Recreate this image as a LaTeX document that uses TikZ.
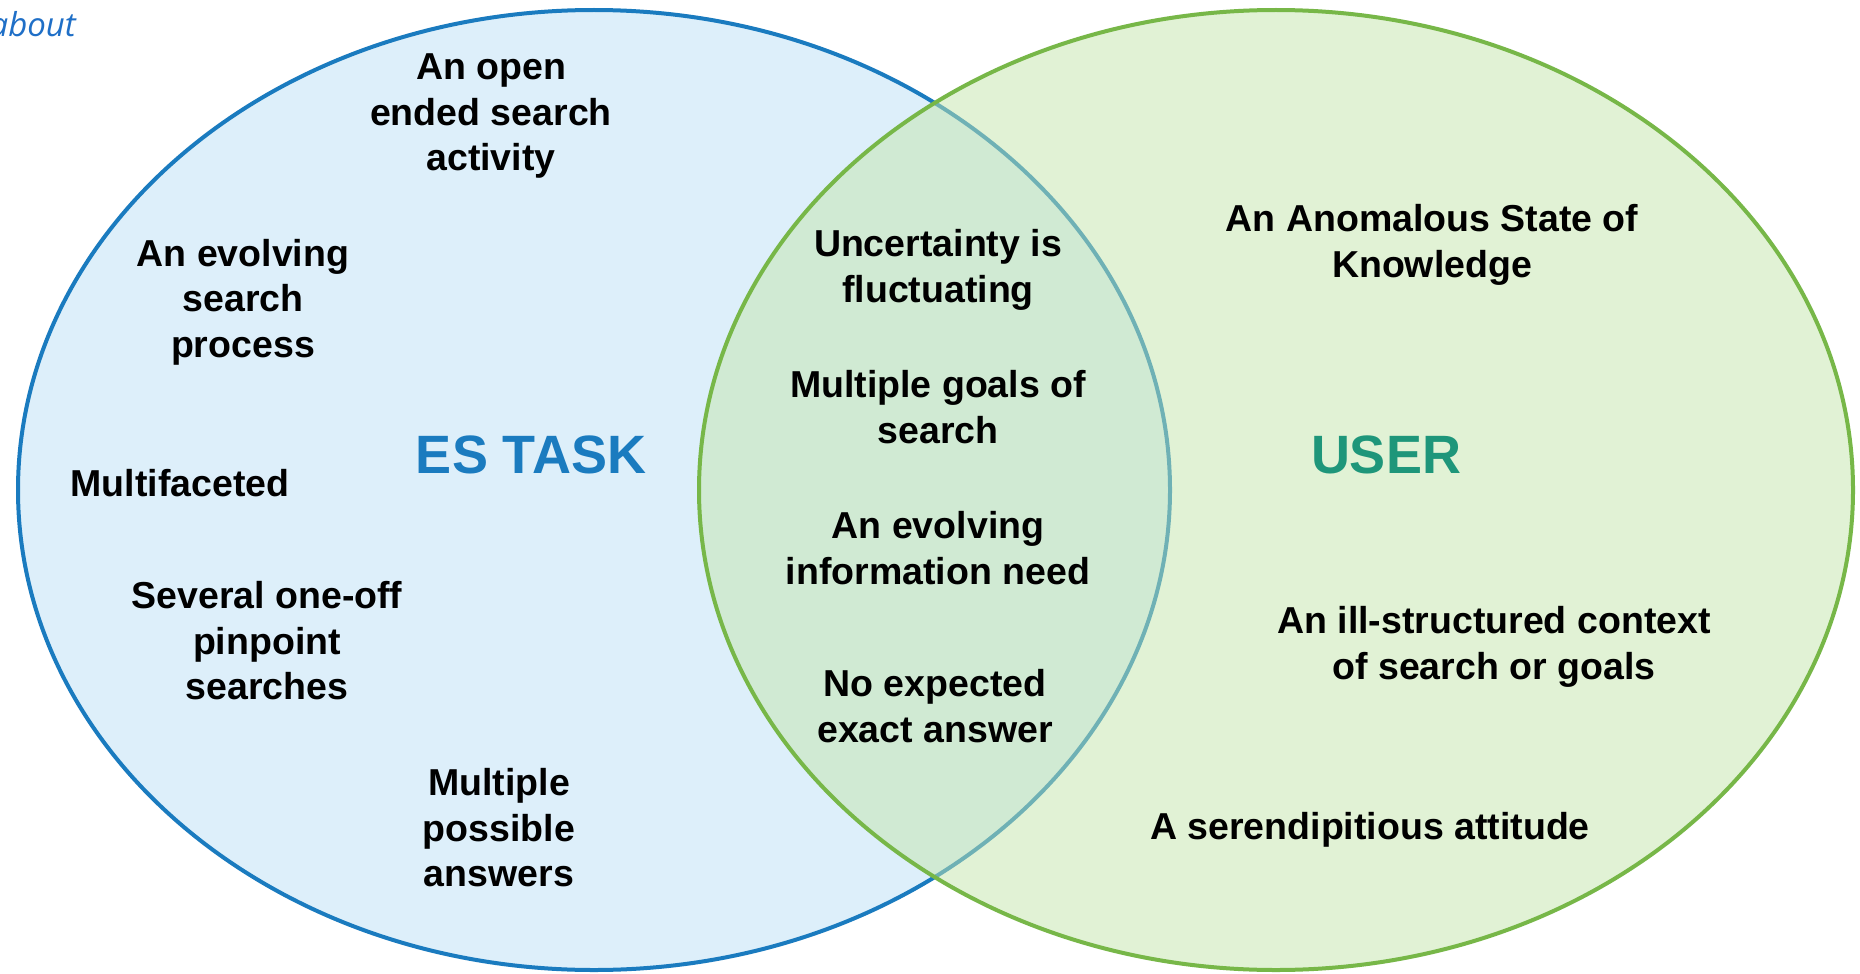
\documentclass[tikz,border=0pt]{standalone}
\usepackage{fontspec}
\setmainfont{Liberation Sans}
\newfontfamily\notefont{Open Sans}
\definecolor{taskfill}{HTML}{DDEFFA}
\definecolor{taskline}{HTML}{1A7BBF}
\definecolor{userfill}{HTML}{C5E7AD}
\definecolor{userline}{HTML}{77B748}
\definecolor{tasktitle}{HTML}{1A7BBF}
\definecolor{usertitle}{HTML}{1E967A}
\definecolor{notecol}{HTML}{1F6FC7}
\tikzset{
  item/.style={align=center, inner sep=0pt, text=black,
    font=\fontsize{37.5}{45.5}\selectfont\bfseries},
  title/.style={inner sep=0pt, font=\fontsize{54}{60}\selectfont\bfseries},
}
\begin{document}
\begin{tikzpicture}[x=1pt,y=-1pt]
\useasboundingbox (0,0) rectangle (1860,974);
\clip (0,0) rectangle (1860,974);
\fill[white] (0,0) rectangle (1860,974);

% the two sets
\draw[taskline, line width=4pt, fill=taskfill] (594,490) ellipse [x radius=576, y radius=480];
\fill[userfill, fill opacity=0.5] (1276,490) ellipse [x radius=577, y radius=480];
\draw[userline, line width=4pt] (1276,490) ellipse [x radius=577, y radius=480];

% running text fragment above
\node[anchor=base east, inner sep=0pt, text=notecol, font=\notefont\itshape\fontsize{33}{40}\selectfont] (note) at (76,37) {about};

% set titles
\node[title, text=tasktitle] (task) at (531,455) {ES TASK};
\node[title, text=usertitle] (user) at (1386,455) {USER};

% task-only items
\node[item] (t1) at (491,116) {An open\\ended search\\activity};
\node[item] (t2) at (243,302) {An evolving\\search\\process};
\node[item] (t3) at (180,483) {Multifaceted};
\node[item] (t4) at (267,641) {Several one-off\\pinpoint\\searches};
\node[item] (t5) at (499,828) {Multiple\\possible\\answers};

% shared items
\node[item] (s1) at (938,270) {Uncertainty is\\fluctuating};
\node[item] (s2) at (938,407) {Multiple goals of\\search};
\node[item] (s3) at (938,548) {An evolving\\information need};
\node[item] (s4) at (935,706) {No expected\\exact answer};

% user-only items
\node[item] (u1) at (1432,245) {An Anomalous State of\\Knowledge};
\node[item] (u2) at (1494,647) {An ill-structured context\\of search or goals};
\node[item] (u3) at (1370,830) {A serendipitious attitude};
\end{tikzpicture}
\end{document}
